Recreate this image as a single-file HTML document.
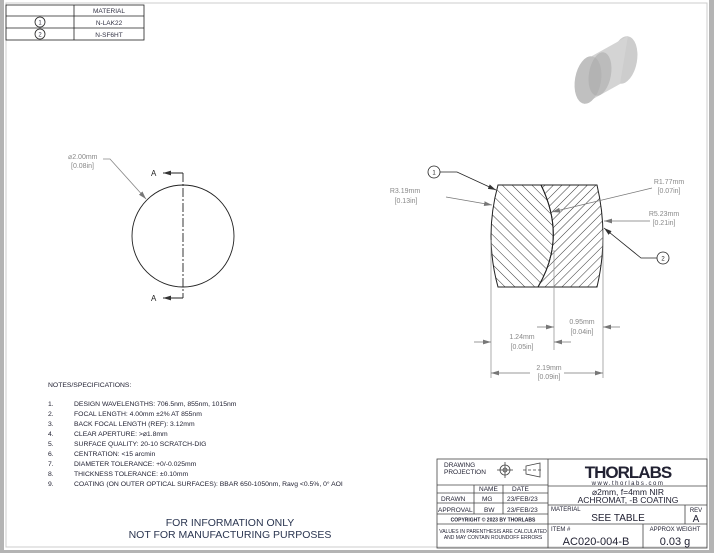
<!DOCTYPE html>
<html><head><style>
html,body{margin:0;padding:0;background:#b4b4b4;width:714px;height:553px;overflow:hidden}
svg{display:block}
text{font-family:"Liberation Sans",sans-serif}
</style></head><body>
<svg width="714" height="553" viewBox="0 0 714 553" xmlns="http://www.w3.org/2000/svg">
<defs>
<marker id="ar" viewBox="0 0 10 6" refX="10" refY="3" markerWidth="8" markerHeight="5" orient="auto" markerUnits="userSpaceOnUse"><path d="M0,0 L10,3 L0,6z" fill="#333"/></marker>
<marker id="ag" viewBox="0 0 10 6" refX="10" refY="3" markerWidth="8" markerHeight="5" orient="auto" markerUnits="userSpaceOnUse"><path d="M0,0 L10,3 L0,6z" fill="#777"/></marker>
<pattern id="h1" width="7" height="7" patternUnits="userSpaceOnUse" patternTransform="rotate(-45)"><line x1="0" y1="0" x2="0" y2="7" stroke="#222" stroke-width="0.9"/></pattern>
<pattern id="h2" width="6" height="6" patternUnits="userSpaceOnUse" patternTransform="rotate(45)"><line x1="0" y1="0" x2="0" y2="6" stroke="#222" stroke-width="0.9"/></pattern>
</defs>
<rect x="4" y="0" width="705" height="550" fill="#fff"/>
<rect x="6" y="3" width="701" height="544" fill="none" stroke="#ccc" stroke-width="1"/>

<!-- material table -->
<g stroke="#222" stroke-width="0.8" fill="none">
<rect x="6" y="5" width="138" height="35"/>
<line x1="6" y1="16" x2="144" y2="16"/><line x1="6" y1="28" x2="144" y2="28"/>
<line x1="74" y1="5" x2="74" y2="40"/>
<circle cx="40" cy="22" r="5"/><circle cx="40" cy="34" r="5"/>
</g>
<g font-size="6.5" fill="#334" text-anchor="middle">
<text x="109" y="13">MATERIAL</text><text x="109" y="25">N-LAK22</text><text x="109" y="37">N-SF6HT</text>
<text x="40" y="24.5" font-size="6">1</text><text x="40" y="36.5" font-size="6">2</text>
</g>

<!-- 3D cylinder -->
<g>
<ellipse cx="624" cy="60" rx="13" ry="24" transform="rotate(10 624 60)" fill="#cdcdcd"/>
<polygon points="592,56 628,36 620,84 584,104" fill="#d4d4d4"/>
<ellipse cx="588" cy="80" rx="13" ry="24" transform="rotate(10 588 80)" fill="#c0c0c0"/>
<ellipse cx="600" cy="74" rx="11" ry="22" transform="rotate(10 600 74)" fill="#a8a8a8" opacity="0.55"/>
</g>

<!-- front view -->
<circle cx="183" cy="236" r="51" fill="none" stroke="#222" stroke-width="0.9"/>
<line x1="183" y1="173" x2="183" y2="298" stroke="#222" stroke-width="0.9" stroke-dasharray="9,2,2,2"/>
<line x1="183" y1="173" x2="163" y2="173" stroke="#222" stroke-width="0.9" marker-end="url(#ar)"/>
<line x1="183" y1="298" x2="163" y2="298" stroke="#222" stroke-width="0.9" marker-end="url(#ar)"/>
<text x="151" y="176" font-size="8" fill="#222">A</text>
<text x="151" y="301" font-size="8" fill="#222">A</text>
<polyline points="103,159 110,159 146,199" fill="none" stroke="#888" stroke-width="0.8" marker-end="url(#ag)"/>
<text x="68" y="159" font-size="7" fill="#888">⌀2.00mm</text>
<text x="71" y="168" font-size="7" fill="#888">[0.08in]</text>

<!-- section -->
<path d="M498,185 L541,185 Q567,238 538,287 L498,287 Q484,236 498,185Z" fill="url(#h1)" stroke="#222" stroke-width="1"/>
<path d="M541,185 L597,185 Q609,236 597,287 L538,287 Q567,238 541,185Z" fill="url(#h2)" stroke="#222" stroke-width="1"/>
<g stroke="#888" stroke-width="0.7">
<line x1="491" y1="240" x2="491" y2="378"/><line x1="554" y1="250" x2="554" y2="350"/><line x1="603" y1="230" x2="603" y2="378"/>
</g>
<g stroke="#777" stroke-width="0.7" fill="none">
<line x1="474" y1="342" x2="491" y2="342" marker-end="url(#ag)"/>
<line x1="571" y1="342" x2="554" y2="342" marker-end="url(#ag)"/>
<line x1="537" y1="327" x2="554" y2="327" marker-end="url(#ag)"/>
<line x1="620" y1="327" x2="603" y2="327" marker-end="url(#ag)"/>
<line x1="530" y1="373" x2="491" y2="373" marker-end="url(#ag)"/>
<line x1="564" y1="373" x2="603" y2="373" marker-end="url(#ag)"/>
<line x1="446" y1="197" x2="492" y2="205" marker-end="url(#ag)"/>
<line x1="652" y1="188" x2="552" y2="212" marker-end="url(#ag)"/>
<line x1="650" y1="221" x2="604" y2="221" marker-end="url(#ag)"/>
</g>
<g stroke="#222" stroke-width="0.8" fill="none">
<circle cx="434" cy="172" r="6"/><polyline points="440,172 457,172 496,190" marker-end="url(#ar)"/>
<circle cx="663" cy="258" r="6"/><polyline points="657,258 641,258 604,228" marker-end="url(#ar)"/>
</g>
<text x="434" y="174.5" font-size="6" text-anchor="middle" fill="#222">1</text>
<text x="663" y="260.5" font-size="6" text-anchor="middle" fill="#222">2</text>
<g font-size="7" fill="#888" text-anchor="middle">
<text x="405" y="193">R3.19mm</text><text x="406" y="203">[0.13in]</text>
<text x="669" y="184">R1.77mm</text><text x="669" y="193">[0.07in]</text>
<text x="664" y="216">R5.23mm</text><text x="664" y="225">[0.21in]</text>
<text x="522" y="339">1.24mm</text><text x="522" y="349">[0.05in]</text>
<text x="582" y="324">0.95mm</text><text x="582" y="334">[0.04in]</text>
<text x="549" y="370">2.19mm</text><text x="549" y="379">[0.09in]</text>
</g>

<!-- notes -->
<g font-size="6.8" fill="#223">
<text x="48" y="387">NOTES/SPECIFICATIONS:</text>
<text x="48" y="406">1.</text><text x="74" y="406">DESIGN WAVELENGTHS: 706.5nm, 855nm, 1015nm</text>
<text x="48" y="416">2.</text><text x="74" y="416">FOCAL LENGTH: 4.00mm ±2% AT 855nm</text>
<text x="48" y="426">3.</text><text x="74" y="426">BACK FOCAL LENGTH (REF): 3.12mm</text>
<text x="48" y="436">4.</text><text x="74" y="436">CLEAR APERTURE: &gt;⌀1.8mm</text>
<text x="48" y="446">5.</text><text x="74" y="446">SURFACE QUALITY: 20-10 SCRATCH-DIG</text>
<text x="48" y="456">6.</text><text x="74" y="456">CENTRATION: &lt;15 arcmin</text>
<text x="48" y="466">7.</text><text x="74" y="466">DIAMETER TOLERANCE: +0/-0.025mm</text>
<text x="48" y="476">8.</text><text x="74" y="476">THICKNESS TOLERANCE: ±0.10mm</text>
<text x="48" y="486">9.</text><text x="74" y="486">COATING (ON OUTER OPTICAL SURFACES): BBAR 650-1050nm, Ravg &lt;0.5%, 0° AOI</text>
</g>
<g font-size="10.5" fill="#2a3550" text-anchor="middle">
<text x="230" y="526">FOR INFORMATION ONLY</text>
<text x="230" y="538">NOT FOR MANUFACTURING PURPOSES</text>
</g>

<!-- title block -->
<g stroke="#444" stroke-width="0.8" fill="none">
<rect x="437" y="459" width="270" height="89"/>
<line x1="548" y1="459" x2="548" y2="548"/>
<line x1="437" y1="485" x2="548" y2="485"/>
<line x1="437" y1="493" x2="548" y2="493"/>
<line x1="437" y1="503" x2="548" y2="503"/>
<line x1="437" y1="514" x2="548" y2="514"/>
<line x1="437" y1="524" x2="548" y2="524"/>
<line x1="474" y1="485" x2="474" y2="514"/>
<line x1="503" y1="485" x2="503" y2="514"/>
<line x1="548" y1="486" x2="707" y2="486"/>
<line x1="548" y1="505" x2="707" y2="505"/>
<line x1="548" y1="524" x2="707" y2="524"/>
<line x1="685" y1="505" x2="685" y2="524"/>
<line x1="643" y1="524" x2="643" y2="548"/>
<circle cx="505" cy="470" r="5"/><circle cx="505" cy="470" r="2"/>
<line x1="497" y1="470" x2="513" y2="470"/><line x1="505" y1="462" x2="505" y2="478"/>
<path d="M526,466 L540,463 L540,477 L526,474Z"/><line x1="523" y1="470" x2="543" y2="470" stroke-dasharray="3,2"/>
</g>
<g fill="#223" font-size="6.5">
<text x="444" y="467">DRAWING</text><text x="444" y="474">PROJECTION</text>
<text x="479" y="491">NAME</text><text x="512" y="491">DATE</text>
<text x="441" y="501">DRAWN</text><text x="482" y="501">MG</text><text x="507" y="501">23/FEB/23</text>
<text x="438" y="512">APPROVAL</text><text x="484" y="512">BW</text><text x="507" y="512">23/FEB/23</text>
<text x="493" y="521.5" font-size="5" text-anchor="middle" font-weight="bold">COPYRIGHT © 2023 BY THORLABS</text>
<text x="493" y="533" font-size="5" text-anchor="middle">VALUES IN PARENTHESIS ARE CALCULATED</text>
<text x="493" y="539" font-size="5" text-anchor="middle">AND MAY CONTAIN ROUNDOFF ERRORS</text>
<text x="628" y="478" font-size="17" font-weight="bold" text-anchor="middle" letter-spacing="-1">THORLABS</text>
<text x="628" y="485" font-size="6" text-anchor="middle" letter-spacing="1.5">www.thorlabs.com</text>
<text x="628" y="495" font-size="8.5" text-anchor="middle">⌀2mm, f=4mm NIR</text>
<text x="628" y="503" font-size="8.5" text-anchor="middle">ACHROMAT, -B COATING</text>
<text x="551" y="511" font-size="6">MATERIAL</text>
<text x="618" y="521" font-size="10" text-anchor="middle">SEE TABLE</text>
<text x="696" y="512" font-size="6" text-anchor="middle">REV</text>
<text x="696" y="522" font-size="10" text-anchor="middle">A</text>
<text x="551" y="531" font-size="6">ITEM #</text>
<text x="596" y="545" font-size="11" text-anchor="middle">AC020-004-B</text>
<text x="675" y="531" font-size="6" text-anchor="middle">APPROX WEIGHT</text>
<text x="675" y="545" font-size="11" text-anchor="middle">0.03 g</text>
</g>
</svg>
</body></html>
